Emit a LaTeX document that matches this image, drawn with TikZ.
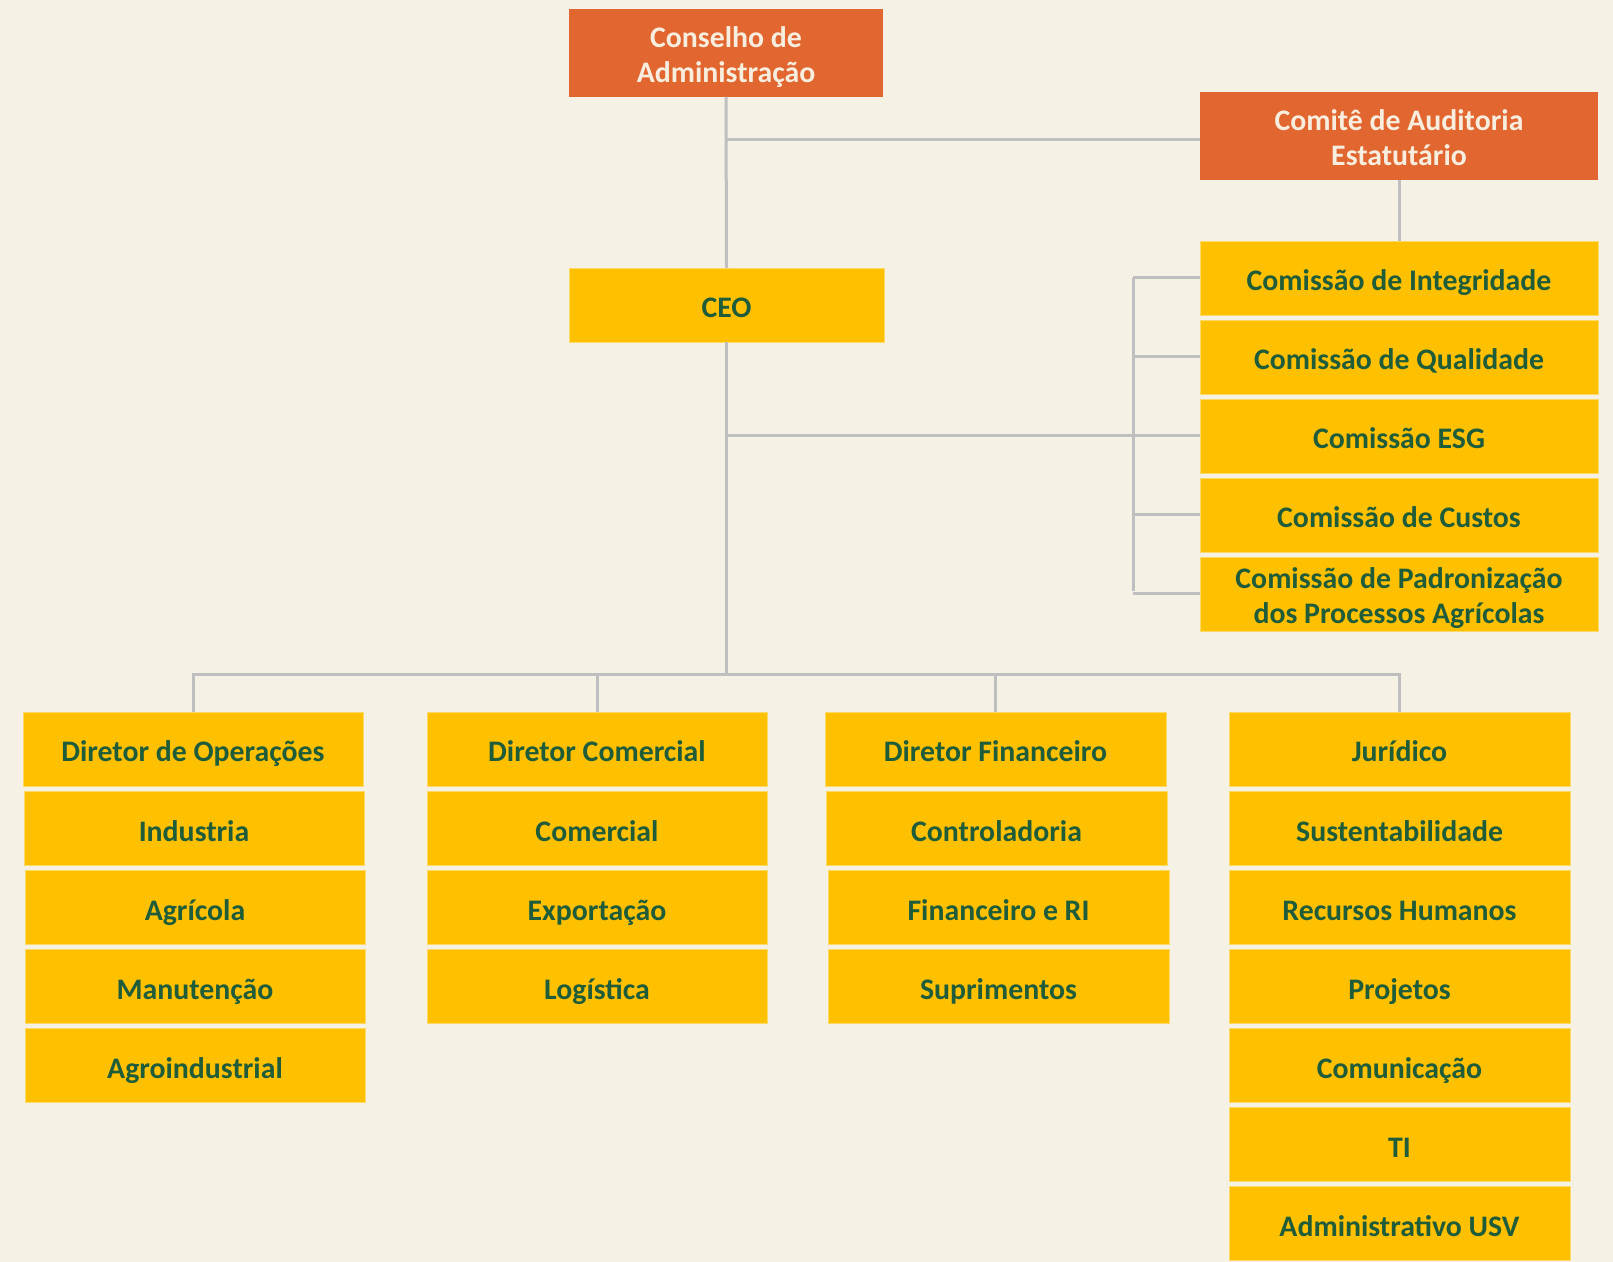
\documentclass[tikz,border=0pt]{standalone}
\usepackage{fontspec}
\setmainfont{Carlito}
\definecolor{bgc}{HTML}{F5F1E4}
\definecolor{orangec}{HTML}{E2662F}
\definecolor{yellowc}{HTML}{FFC000}
\definecolor{greenc}{HTML}{1F5C3A}
\definecolor{creamc}{HTML}{F7EEDF}
\definecolor{linec}{HTML}{BFBFBF}
\definecolor{edgec}{HTML}{FFD966}
\newcommand\orgbox[7]{\node[#6, minimum width={(#3-#2)*0.5pt}, minimum height={(#5-#4)*0.5pt}] (#1) at ({(#2+#3)/2},{(#4+#5)/2}) {#7};}
\newcommand\lowtwo[2]{\raisebox{-2.5pt}[\height][\depth]{\begin{tabular}{@{}c@{}}#1\\#2\end{tabular}}}
\begin{document}
\begin{tikzpicture}[x=0.5pt,y=-0.5pt,
  basebox/.style={inner sep=0pt, outer sep=0pt, align=center, font=\fontsize{14.9}{17.5}\selectfont\bfseries},
  obx/.style={basebox, fill=orangec, text=creamc},
  ybx/.style={basebox, fill=yellowc, draw=edgec, line width=0.4pt, text=greenc},
  one/.style={text height=13pt, text depth=0pt},
  conn/.style={draw=linec, line width=1.5pt}]
\fill[bgc] (0,0) rectangle (1613,1262);
\useasboundingbox (0,0) rectangle (1613,1262);
% top
\orgbox{cons}{569}{883}{9}{97}{obx}{\lowtwo{Conselho de}{Administração}}
\orgbox{comite}{1200}{1598}{92}{180}{obx}{\lowtwo{Comitê de Auditoria}{Estatutário}}
\orgbox{ceo}{569}{884}{268}{342}{ybx,one}{CEO}
% commissions
\orgbox{ci}{1200}{1598}{241}{315}{ybx,one}{Comissão de Integridade}
\orgbox{cq}{1200}{1598}{320}{394}{ybx,one}{Comissão de Qualidade}
\orgbox{ce}{1200}{1598}{399}{473}{ybx,one}{Comissão ESG}
\orgbox{cc}{1200}{1598}{478}{552}{ybx,one}{Comissão de Custos}
\orgbox{cp}{1200}{1598}{557}{631}{ybx}{\lowtwo{Comissão de Padronização}{dos Processos Agrícolas}}
% column 1
\orgbox{d1}{23}{363}{712}{786}{ybx,one}{Diretor de Operações}
\orgbox{a2}{24}{364}{791}{865}{ybx,one}{Industria}
\orgbox{a3}{25}{365}{870}{944}{ybx,one}{Agrícola}
\orgbox{a4}{25}{365}{949}{1023}{ybx,one}{Manutenção}
\orgbox{a5}{25}{365}{1028}{1102}{ybx,one}{Agroindustrial}
% column 2
\orgbox{d2}{427}{767}{712}{786}{ybx,one}{Diretor Comercial}
\orgbox{b2}{427}{767}{791}{865}{ybx,one}{Comercial}
\orgbox{b3}{427}{767}{870}{944}{ybx,one}{Exportação}
\orgbox{b4}{427}{767}{949}{1023}{ybx,one}{Logística}
% column 3
\orgbox{d3}{825}{1166}{712}{786}{ybx,one}{Diretor Financeiro}
\orgbox{c2}{826}{1167}{791}{865}{ybx,one}{Controladoria}
\orgbox{c3}{828}{1169}{870}{944}{ybx,one}{Financeiro e RI}
\orgbox{c4}{828}{1169}{949}{1023}{ybx,one}{Suprimentos}
% column 4
\orgbox{d4}{1229}{1570}{712}{786}{ybx,one}{Jurídico}
\orgbox{e2}{1229}{1570}{791}{865}{ybx,one}{Sustentabilidade}
\orgbox{e3}{1229}{1570}{870}{944}{ybx,one}{Recursos Humanos}
\orgbox{e4}{1229}{1570}{949}{1023}{ybx,one}{Projetos}
\orgbox{e5}{1229}{1570}{1028}{1102}{ybx,one}{Comunicação}
\orgbox{e6}{1229}{1570}{1107}{1181}{ybx,one}{TI}
\orgbox{e7}{1229}{1570}{1186}{1260}{ybx,one}{Administrativo USV}
% connectors
\coordinate (j1) at (726,140);
\coordinate (bx) at (1133,278);
\coordinate (bxe) at (1133,591);
\coordinate (bus) at (726,674);
\draw[conn] (cons.south) -- (ceo.north);
\draw[conn] (j1) -- (j1 -| comite.west);
\draw[conn] (comite.south) -- (ci.north);
\draw[conn] (bx) -- (bxe);
\foreach \n in {ci,cq,cc,cp}{\draw[conn] (\n.west -| bx) -- (\n.west);}
\draw[conn] (ceo.south |- ce.west) -- (ce.west);
\draw[conn] (ceo.south) -- (ceo.south |- bus);
\draw[conn] (d1.north) -- (d1.north |- bus) -- (d4.north |- bus) -- (d4.north);
\draw[conn] (d2.north |- bus) -- (d2.north);
\draw[conn] (d3.north |- bus) -- (d3.north);
\end{tikzpicture}
\end{document}
